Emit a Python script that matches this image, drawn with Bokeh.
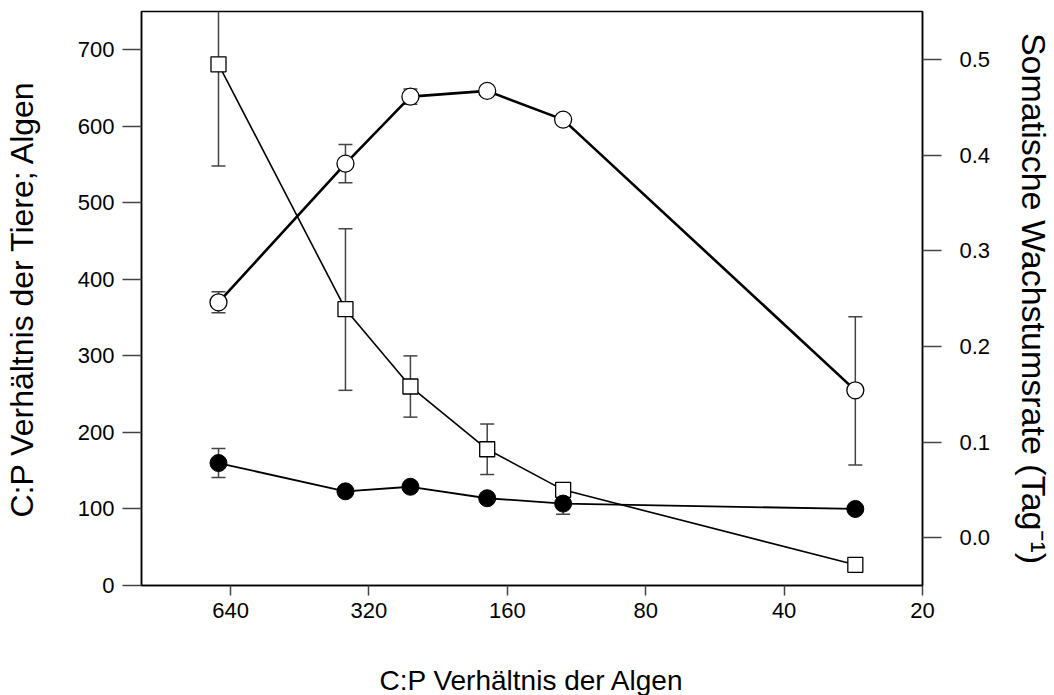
from bokeh.plotting import figure
from bokeh.models import (Range1d, LinearAxis, FixedTicker, ColumnDataSource,
                          Whisker, TeeHead)
from bokeh.embed import file_html
from bokeh.resources import INLINE

# ---- data ----
algae_cp = [680, 360, 260, 177, 121, 28]          # x: C:P ratio of algae

algae_y = [681, 361, 260, 178, 125, 27]           # squares (left axis)
algae_lo = [548, 255, 220, 145, 117, 27]
algae_hi = [815, 466, 300, 211, 133, 27]

animal_y = [160, 123, 129, 114, 107, 100]         # filled circles (left axis)
animal_lo = [141, 123, 129, 114, 93, 100]
animal_hi = [179, 123, 129, 114, 121, 100]

growth_y = [0.246, 0.391, 0.461, 0.467, 0.437, 0.154]   # open circles (right axis)
growth_lo = [0.235, 0.371, 0.453, 0.467, 0.437, 0.076]
growth_hi = [0.257, 0.411, 0.469, 0.467, 0.437, 0.231]

x_ticks = [640, 320, 160, 80, 40, 20]
left_ticks = [0, 100, 200, 300, 400, 500, 600, 700]
right_ticks = [0.0, 0.1, 0.2, 0.3, 0.4, 0.5]

FONT = "Liberation Sans"

p = figure(frame_width=781, frame_height=574,
           x_axis_type="log", x_range=Range1d(1000, 20), y_range=Range1d(0, 750),
           output_backend="svg", toolbar_location=None,
           min_border_left=136, min_border_right=129,
           min_border_top=11, min_border_bottom=100)
p.extra_y_ranges = {"right": Range1d(-0.05, 0.55)}

p.xgrid.visible = False
p.ygrid.visible = False
p.outline_line_color = "black"
p.outline_line_width = 1.5
p.background_fill_color = "white"
p.border_fill_color = "white"

# bottom axis
xa = p.xaxis[0]
xa.ticker = FixedTicker(ticks=x_ticks, minor_ticks=[])
xa.major_label_overrides = {t: str(t) for t in x_ticks}
xa.axis_label = "C:P Verhältnis der Algen"

# left axis
ya = p.yaxis[0]
ya.ticker = FixedTicker(ticks=left_ticks, minor_ticks=[])
ya.axis_label = "C:P Verhältnis der Tiere; Algen"

# right axis
ra = LinearAxis(y_range_name="right",
                ticker=FixedTicker(ticks=right_ticks, minor_ticks=[]),
                axis_label="Somatische Wachstumsrate (Tag\u207B\u00B9)")
p.add_layout(ra, "right")
ra.formatter.use_scientific = False
ra.major_label_overrides = {t: f"{t:.1f}" for t in right_ticks}

for ax, tout, lstand, tstand, tsize in ((xa, 10, 7, 44, "28px"),
                                         (ya, 19, 8, 35, "32px"),
                                         (ra, 19, 18, 22, "34px")):
    ax.axis_line_color = "black"
    ax.axis_line_width = 1.5
    ax.major_tick_line_color = "#444444"
    ax.major_tick_line_width = 1.5
    ax.major_tick_in = 0
    ax.major_tick_out = tout
    ax.minor_tick_line_color = None
    ax.major_label_text_font = FONT
    ax.major_label_text_font_size = "22px"
    ax.major_label_text_color = "black"
    ax.major_label_standoff = lstand
    ax.axis_label_text_font = FONT
    ax.axis_label_text_font_size = tsize
    ax.axis_label_text_font_style = "normal"
    ax.axis_label_text_color = "black"
    ax.axis_label_standoff = tstand

src_a = ColumnDataSource(dict(x=algae_cp, y=algae_y, lo=algae_lo, hi=algae_hi))
src_n = ColumnDataSource(dict(x=algae_cp, y=animal_y, lo=animal_lo, hi=animal_hi))
src_g = ColumnDataSource(dict(x=algae_cp, y=growth_y, lo=growth_lo, hi=growth_hi))

def whisk(src, rname="default"):
    w = Whisker(base="x", lower="lo", upper="hi", source=src,
                line_color="#444444", line_width=1.5,
                upper_head=TeeHead(size=14, line_color="#444444", line_width=1.5),
                lower_head=TeeHead(size=14, line_color="#444444", line_width=1.5),
                y_range_name=rname)
    p.add_layout(w)

whisk(src_a)
whisk(src_n)
whisk(src_g, "right")

# lines
p.line("x", "y", source=src_a, line_color="black", line_width=1.6)
p.line("x", "y", source=src_n, line_color="black", line_width=1.8)
p.line("x", "y", source=src_g, line_color="black", line_width=2.6, y_range_name="right")

# markers
p.scatter("x", "y", source=src_a, marker="square", size=15,
          fill_color="white", line_color="black", line_width=1.3)
p.scatter("x", "y", source=src_n, marker="circle", size=17,
          fill_color="black", line_color="black", line_width=1.0)
p.scatter("x", "y", source=src_g, marker="circle", size=17,
          fill_color="white", line_color="black", line_width=1.3, y_range_name="right")

open("out.html", "w").write(file_html(p, INLINE))
